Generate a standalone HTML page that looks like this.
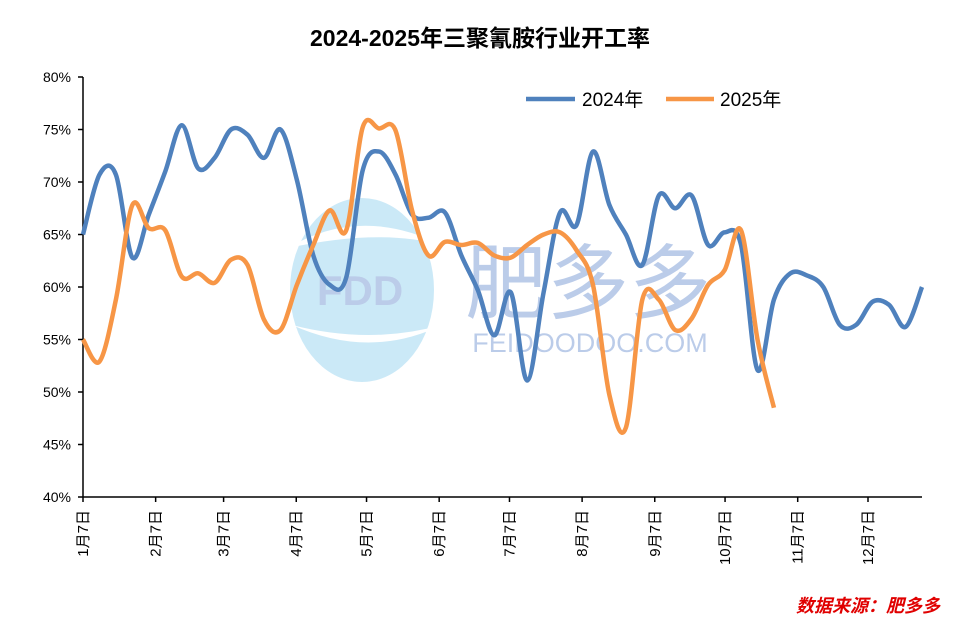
<!DOCTYPE html>
<html><head><meta charset="utf-8"><style>
body{margin:0;background:#fff;}
svg text{font-family:"Liberation Sans","Noto Sans CJK SC",sans-serif;}
</style></head><body>
<svg width="980" height="638" viewBox="0 0 980 638" xmlns="http://www.w3.org/2000/svg">
<text x="480" y="46" text-anchor="middle" font-size="23" font-weight="bold" fill="#000">2024-2025年三聚氰胺行业开工率</text>
<g opacity="0.45">
<ellipse cx="362" cy="290" rx="72" ry="92" fill="#8ecfee"/>
<path d="M288 248 Q360 205 442 245 Q380 228 288 248Z" fill="#fff"/>
<path d="M292 325 Q370 360 442 325 Q370 345 292 325Z" fill="#fff"/>
<text x="360" y="305" text-anchor="middle" font-size="42" font-weight="bold" fill="#6a8fd0">FDD</text>
<text x="588" y="312" text-anchor="middle" font-size="82" fill="#6a8fd0">肥多多</text>
<text x="590" y="352" text-anchor="middle" font-size="27" fill="#6a8fd0">FEIDOODOO.COM</text>
</g>
<g id="axes"></g>
<g id="series"></g>
<g>
<line x1="526" y1="99" x2="575" y2="99" stroke="#4f81bd" stroke-width="4.5"/>
<text x="582" y="106" font-size="19" fill="#000">2024年</text>
<line x1="666" y1="99" x2="714" y2="99" stroke="#f79646" stroke-width="4.5"/>
<text x="720" y="106" font-size="19" fill="#000">2025年</text>
</g>
<text x="940" y="612" text-anchor="end" font-size="18" font-weight="bold" font-style="italic" fill="#e00000">数据来源：肥多多</text>
</svg>
<script>
const yTicks=[40,45,50,55,60,65,70,75,80];
const xLabels=["1月7日","2月7日","3月7日","4月7日","5月7日","6月7日","7月7日","8月7日","9月7日","10月7日","11月7日","12月7日"];
const xLabelDays=[0,31,60,91,121,152,182,213,244,274,305,335];
const s2024=[65,70.7,70.7,62.8,66.9,71,75.4,71.3,72.3,75,74.5,72.3,75,70.2,63,60.2,60.9,71.1,72.9,70.7,66.9,66.6,67.1,63,59.7,55.4,59.5,51.1,59.5,67.1,65.9,72.9,67.8,65,62.1,68.7,67.5,68.7,64,65.2,64,52.1,58.8,61.3,61.1,60,56.4,56.4,58.6,58.3,56.2,60];
const s2025=[55,52.9,58.8,67.8,65.6,65.4,61,61.3,60.4,62.6,62.1,56.9,55.9,60.2,64,67.3,65.4,75.2,75.1,74.9,67.3,63,64.3,64,64.2,63,62.8,64,65,65.2,63.5,60.2,49.7,46.6,58.8,58.8,55.9,57,60.2,61.6,65.4,55,48.5];
const NS="http://www.w3.org/2000/svg";
const X0=83,X1=922,Y0=497,Y1=77;
function yS(v){return Y0-(v-40)/(80-40)*(Y0-Y1);}
function xW(i){return X0+i*(X1-X0)/51;}
function xD(d){return X0+d*(868-X0)/335;}
function mk(t,a,p){const e=document.createElementNS(NS,t);for(const k in a)e.setAttribute(k,a[k]);p.appendChild(e);return e;}
const ax=document.getElementById('axes');
const yaxis=mk('line',{x1:X0,y1:Y1,x2:X0,y2:Y0,stroke:'#000','stroke-width':1.5},ax);


const xaxis=mk('line',{x1:X0,y1:Y0,x2:X1,y2:Y0,stroke:'#000','stroke-width':1.5},ax);


yTicks.forEach(v=>{
 const y=yS(v);
 const t=mk('line',{x1:X0-5,y1:y,x2:X0,y2:y,stroke:'#000','stroke-width':1.5},ax);
 
 
 const l=mk('text',{x:X0-12,y:y+5,'text-anchor':'end','font-size':14},ax);l.textContent=v+'%';
 
 
});
xLabels.forEach((s,i)=>{
 const x=xD(xLabelDays[i]);
 const t=mk('line',{x1:x,y1:Y0,x2:x,y2:Y0+5,stroke:'#000','stroke-width':1.5},ax);
 
 
 const l=mk('text',{x:0,y:0,'text-anchor':'end','font-size':15,transform:`translate(${x+5},${Y0+13}) rotate(-90)`},ax);l.textContent=s;
 
 
});
function path(vals){
 const p=vals.map((v,i)=>[xW(i),yS(v)]);
 let d=`M${p[0][0]},${p[0][1]}`;
 for(let i=0;i<p.length-1;i++){
  const a=p[Math.max(0,i-1)],b=p[i],c=p[i+1],e=p[Math.min(p.length-1,i+2)];
  const c1=[b[0]+(c[0]-a[0])/6,b[1]+(c[1]-a[1])/6],c2=[c[0]-(e[0]-b[0])/6,c[1]-(e[1]-b[1])/6];
  d+=` C${c1[0]},${c1[1]} ${c2[0]},${c2[1]} ${c[0]},${c[1]}`;
 }
 return d;
}
const sg=document.getElementById('series');
const l1=mk('path',{d:path(s2024),fill:'none',stroke:'#4f81bd','stroke-width':4.5,'stroke-linejoin':'round'},sg);


const l2=mk('path',{d:path(s2025),fill:'none',stroke:'#f79646','stroke-width':4.5,'stroke-linejoin':'round'},sg);


</script>
</body></html>
